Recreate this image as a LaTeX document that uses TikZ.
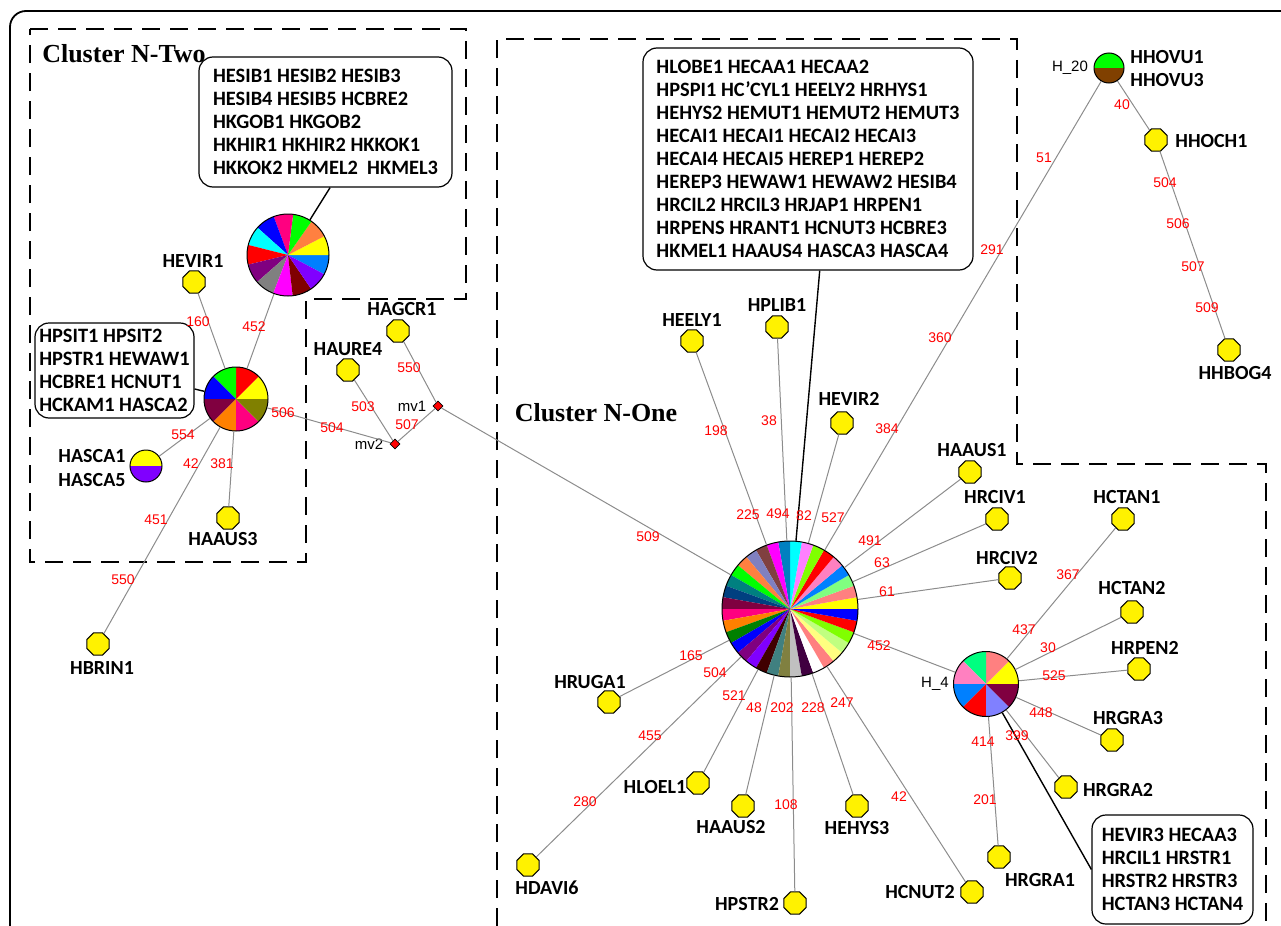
\documentclass[tikz,border=0pt]{standalone}
\usepackage{fontspec}
\setmainfont{Carlito}
\newfontfamily\numfont{Liberation Sans}
\newfontfamily\clusterfont{Liberation Serif}
\usetikzlibrary{shapes.geometric}

% pie chart: name, centre, radius, start angle, slice angle, slice colours
\newcommand{\piechart}[6]{%
  \foreach \slicehex [count=\k] in {#6} {
    \definecolor{slice}{HTML}{\slicehex}
    \pgfmathsetmacro{\slicefrom}{#4+(\k-1)*#5}
    \fill[slice] (#2) -- ++(\slicefrom:#3) arc[start angle=\slicefrom, delta angle=#5, radius=#3] -- cycle;
  }
  \node[pie, minimum size=2*#3] (#1) at (#2) {};
}

\begin{document}
\begin{tikzpicture}[
x=0.5pt, y=-0.5pt,
hap/.style={regular polygon, regular polygon sides=8, draw=black, fill=yellow, minimum size=12pt, inner sep=0pt, line width=0.5pt},
median/.style={diamond, draw=black, fill=red, minimum size=5pt, inner sep=0pt, line width=0.4pt},
pie/.style={circle, draw=black, line width=0.5pt, inner sep=0pt},
hapname/.style={font=\bfseries\fontsize{10}{12}\selectfont, inner sep=0pt},
smallname/.style={font=\numfont\fontsize{7.5}{9}\selectfont, inner sep=0pt},
num/.style={font=\numfont\fontsize{7}{8}\selectfont, text=red, inner sep=0pt},
listbox/.style={draw=black, rounded corners=7pt, align=left, line width=0.6pt, inner sep=0pt, font=\bfseries\fontsize{10.2}{11.5}\selectfont},
cluster/.style={draw=black, line width=0.9pt, dash pattern=on 9pt off 5pt},
clustername/.style={font=\clusterfont\bfseries\fontsize{13}{15}\selectfont, inner sep=0pt},
link/.style={draw=gray!90, line width=0.5pt},
callout/.style={draw=black, line width=0.7pt},
]
\useasboundingbox (0,0) rectangle (1281,926);

%Frame and clusters
\draw[line width=0.9pt, rounded corners=8pt] (1281,11) -- (10,11) -- (10,926);
\draw[cluster] (30,29) -- (466,29) -- (466,299) -- (306,299) -- (306,562) -- (30,562) -- cycle;
\draw[cluster] (497,926) -- (497,39) -- (1017,39) -- (1017,464) -- (1266,464) -- (1266,926);
\node[clustername] (ntwo) at (124,54) {Cluster N-Two};
\node[clustername] (none) at (596,413) {Cluster N-One};

%Names
\node[hapname] (hevirone-l)   at (193,261) {HEVIR1};
\node[hapname] (hagcr-l)      at (402,309) {HAGCR1};
\node[hapname] (haure-l)      at (348,349) {HAURE4};
\node[hapname] (hascaone-l)   at (92,456)  {HASCA1};
\node[hapname] (hascafive-l)  at (92,480)  {HASCA5};
\node[hapname] (haausthree-l) at (223,539) {HAAUS3};
\node[hapname] (hbrin-l)      at (102,668) {HBRIN1};
\node[hapname] (heely-l)      at (692,320) {HEELY1};
\node[hapname] (hplib-l)      at (777,305) {HPLIB1};
\node[hapname] (hevirtwo-l)   at (849,399) {HEVIR2};
\node[hapname] (haausone-l)   at (972,450) {HAAUS1};
\node[hapname] (hrcivone-l)   at (995,497) {HRCIV1};
\node[hapname] (hrcivtwo-l)   at (1007,558) {HRCIV2};
\node[hapname] (hctanone-l)   at (1127,497) {HCTAN1};
\node[hapname] (hctantwo-l)   at (1132,588) {HCTAN2};
\node[hapname] (hrpen-l)      at (1145,648) {HRPEN2};
\node[hapname] (hrgrathree-l) at (1128,718) {HRGRA3};
\node[hapname] (hrgratwo-l)   at (1118,790) {HRGRA2};
\node[hapname] (hrgraone-l)   at (1040,880) {HRGRA1};
\node[hapname] (hcnut-l)      at (920,892) {HCNUT2};
\node[hapname] (hruga-l)      at (590,682) {HRUGA1};
\node[hapname] (hloel-l)      at (655,787) {HLOEL1};
\node[hapname] (haaustwo-l)   at (731,827) {HAAUS2};
\node[hapname] (hehys-l)      at (857,828) {HEHYS3};
\node[hapname] (hdavi-l)      at (547,888) {HDAVI6};
\node[hapname] (hpstr-l)      at (747,904) {HPSTR2};
\node[hapname, anchor=west] (hhovuone-l)   at (1130,57) {HHOVU1};
\node[hapname, anchor=west] (hhovuthree-l) at (1130,80) {HHOVU3};
\node[hapname, anchor=west] (hhoch-l)      at (1175,141) {HHOCH1};
\node[hapname] (hhbog-l)      at (1235,373) {HHBOG4};
\node[smallname] (mvone-l) at (412,406) {mv1};
\node[smallname] (mvtwo-l) at (369,444) {mv2};
\node[smallname] (hfour-l) at (935,684) {H\_4};
\node[smallname] (htwenty-l) at (1070,68) {H\_20};

%Haplotypes
\node[hap] (hevirone)   at (194,282) {};
\node[hap] (hagcr)      at (398,331) {};
\node[hap] (haure)      at (348,370) {};
\node[hap] (haausthree) at (228,518) {};
\node[hap] (hbrin)      at (98,644)  {};
\node[hap] (heely)      at (692,341) {};
\node[hap] (hplib)      at (777,327) {};
\node[hap] (hevirtwo)   at (842,423) {};
\node[hap] (haausone)   at (970,472) {};
\node[hap] (hrcivone)   at (997,519) {};
\node[hap] (hrcivtwo)   at (1010,578) {};
\node[hap] (hctanone)   at (1123,519) {};
\node[hap] (hctantwo)   at (1132,612) {};
\node[hap] (hrpen)      at (1139,669) {};
\node[hap] (hrgrathree) at (1112,740) {};
\node[hap] (hrgratwo)   at (1066,787) {};
\node[hap] (hrgraone)   at (999,857) {};
\node[hap] (hcnut)      at (972,892) {};
\node[hap] (hruga)      at (609,702) {};
\node[hap] (hloel)      at (698,783) {};
\node[hap] (haaustwo)   at (743,806) {};
\node[hap] (hehys)      at (857,806) {};
\node[hap] (hdavi)      at (528,865) {};
\node[hap] (hpstr)      at (795,903) {};
\node[hap] (hhoch)      at (1156,140) {};
\node[hap] (hhbog)      at (1229,350) {};
\node[median] (mvone) at (438,406) {};
\node[median] (mvtwo) at (395,444) {};

%Pies
\piechart{pieA}{288,255}{20.5pt}{-28}{27.69}{0080FF,FFFF00,FF8040,00FF00,FF0080,0000FF,00FFFF,FF0000,800080,808080,FF00FF,800000,8000FF}
\piechart{pieB}{236,399}{16pt}{0}{45}{FFFF00,FF0000,00FF00,0000FF,800040,FF8000,FF0080,808000}
\piechart{pieN}{790,609}{34pt}{0}{10}{FFFF00,FF8080,80FF80,0080FF,FF80C0,FF0000,80FF00,FF80FF,00FFFF,0080C0,FF00FF,804040,8080C0,FF8040,00FF00,008080,004080,800040,FF0080,FF8000,008000,0000FF,800080,8000FF,400000,408080,808040,C0C0C0,400040,FFFFFF,FF8080,FFFF80,C0FF80,80FF00,FF0000,0000FF}
\piechart{pieH}{986,684}{16.25pt}{0}{45}{FFFF00,FF8080,00FF80,FF80C0,0080FF,FF0000,8080FF,800040}
\piechart{pieT}{1109,68}{7.5pt}{0}{180}{00FF00,804000}
\piechart{hasca}{146,466}{8pt}{0}{180}{FFFF00,8000FF}

%Lists
\node[listbox, minimum width=126.5pt, minimum height=65pt] (boxA) at (325.5,122) {HESIB1 HESIB2 HESIB3\\HESIB4 HESIB5 HCBRE2\\HKGOB1 HKGOB2\\HKHIR1 HKHIR2 HKKOK1\\HKKOK2 HKMEL2 \ HKMEL3};
\node[listbox, minimum width=79.5pt, minimum height=47.5pt] (boxP) at (114.5,370.5) {HPSIT1 HPSIT2\\HPSTR1 HEWAW1\\HCBRE1 HCNUT1\\HCKAM1 HASCA2};
\node[listbox, minimum width=165pt, minimum height=111pt] (boxN) at (808,159) {HLOBE1 HECAA1 HECAA2\\HPSPI1 HC'CYL1 HEELY2 HRHYS1\\HEHYS2 HEMUT1 HEMUT2 HEMUT3\\HECAI1 HECAI1 HECAI2 HECAI3\\HECAI4 HECAI5 HEREP1 HEREP2\\HEREP3 HEWAW1 HEWAW2 HESIB4\\HRCIL2 HRCIL3 HRJAP1 HRPEN1\\HRPENS HRANT1 HCNUT3 HCBRE3\\HKMEL1 HAAUS4 HASCA3 HASCA4};
\node[listbox, minimum width=80.5pt, minimum height=54.5pt] (boxH) at (1172.5,869.5) {HEVIR3 HECAA3\\HRCIL1 HRSTR1\\HRSTR2 HRSTR3\\HCTAN3 HCTAN4};

%Lines
\draw[callout] (boxA.-86) -- (pieA);
\draw[callout] (boxP.-13) -- (pieB);
\draw[callout] (boxN.-84) -- (pieN);
\draw[callout] (boxH.west) -- (pieH);

\draw[link] (pieA) -- (pieB);
\draw[link] (hevirone) -- (pieB);
\draw[link] (pieB) -- (hasca);
\draw[link] (pieB) -- (hbrin);
\draw[link] (pieB) -- (haausthree);
\draw[link] (pieB) -- (mvtwo);
\draw[link] (haure) -- (mvtwo);
\draw[link] (hagcr) -- (mvone);
\draw[link] (mvtwo) -- (mvone);
\draw[link] (mvone) -- (pieN);
\draw[link] (pieN) -- (heely);
\draw[link] (pieN) -- (hplib);
\draw[link] (pieN) -- (hevirtwo);
\draw[link] (pieN) -- (pieT);
\draw[link] (pieN) -- (haausone);
\draw[link] (pieN) -- (hrcivone);
\draw[link] (pieN) -- (hrcivtwo);
\draw[link] (pieN) -- (pieH);
\draw[link] (pieN) -- (hruga);
\draw[link] (pieN) -- (hdavi);
\draw[link] (pieN) -- (hloel);
\draw[link] (pieN) -- (haaustwo);
\draw[link] (pieN) -- (hpstr);
\draw[link] (pieN) -- (hehys);
\draw[link] (pieN) -- (hcnut);
\draw[link] (pieH) -- (hctanone);
\draw[link] (pieH) -- (hctantwo);
\draw[link] (pieH) -- (hrpen);
\draw[link] (pieH) -- (hrgrathree);
\draw[link] (pieH) -- (hrgratwo);
\draw[link] (pieH) -- (hrgraone);
\draw[link] (pieT) -- (hhoch);
\draw[link] (hhoch) -- (hhbog);

%Mutations
\foreach \mx/\my/\mtext [count=\c] in {198/322/160, 254/327/452, 183/435/554, 191/464/42, 222/464/381,
  156/520/451, 123/580/550, 283/413/506, 332/428/504, 363/407/503, 409/368/550, 407/425/507,
  648/537/509, 748/515/225, 716/431/198, 778/514/494, 769/421/38, 804/516/82, 833/518/527,
  887/429/384, 940/338/360, 992/250/291, 1044/158/51, 870/541/491, 882/563/63, 887/592/61,
  879/646/452, 691/656/165, 715/673/504, 650/736/455, 585/802/280, 734/696/521, 754/708/48,
  782/708/202, 786/805/108, 813/708/228, 842/703/247, 899/797/42, 1024/630/437, 1068/575/367,
  1048/648/30, 1054/676/525, 1041/713/448, 1017/736/399, 983/742/414, 985/800/201,
  1122/105/40, 1165/183/504, 1178/224/506, 1193/267/507, 1207/308/509}
  \node[num] (mut\c) at (\mx,\my) {\mtext};
\end{tikzpicture}
\end{document}
